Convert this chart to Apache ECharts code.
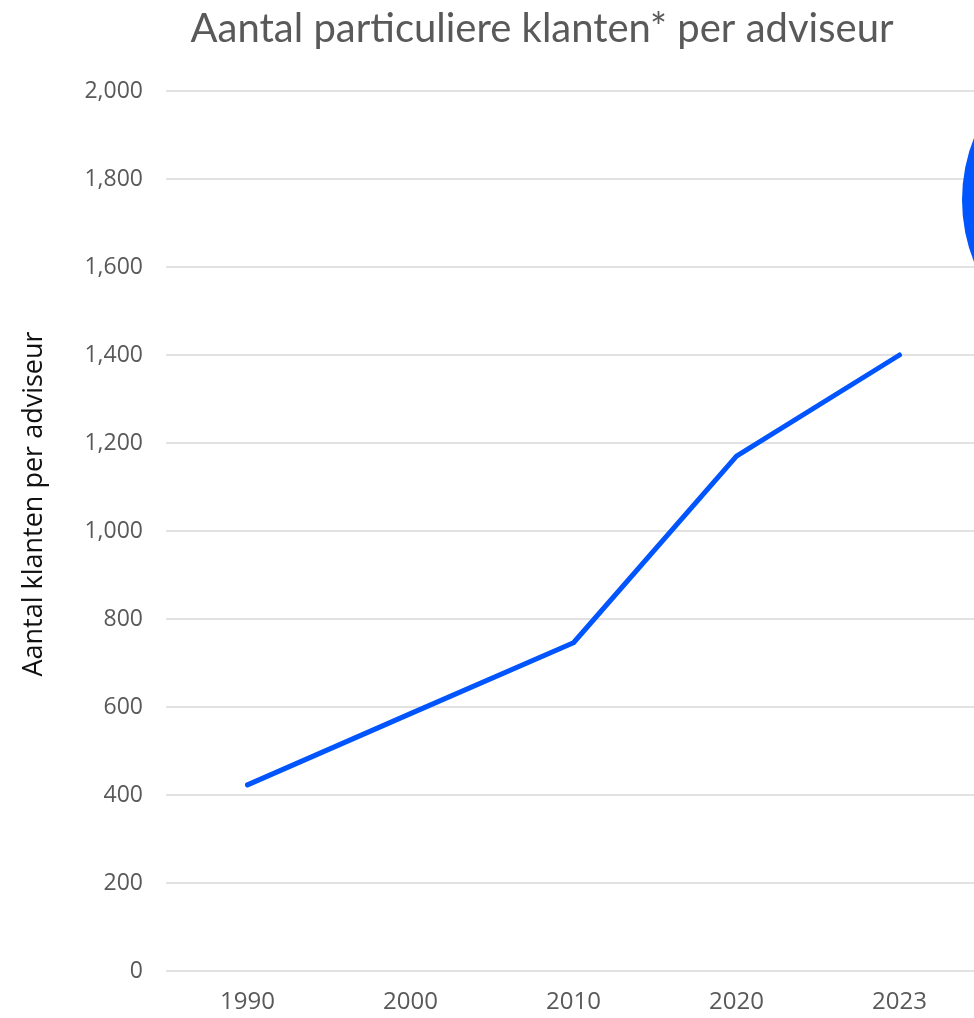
<!DOCTYPE html>
<html>
<head>
<meta charset="utf-8">
<script src="https://cdn.jsdelivr.net/npm/echarts@6/dist/echarts.min.js"></script>
<style>
html,body{margin:0;padding:0;background:#fff;overflow:hidden;}
#chart{width:981px;height:1018px;}
</style>
</head>
<body>
<div id="chart"></div>
<script>
const categories = ['1990', '2000', '2010', '2020', '2023'];
const klanten = [423, 585, 746, 1170, 1400];
const yTicks = { min: 0, max: 2000, interval: 200 };

const chart = echarts.init(document.getElementById('chart'), null, { renderer: 'canvas' });
const font = '"Open Sans", "Noto Sans", sans-serif';
chart.setOption({
  backgroundColor: '#ffffff',
  animation: false,
  title: {
    text: 'Aantal particuliere klanten* per adviseur',
    left: 537,
    textAlign: 'center',
    top: 4,
    textStyle: { fontFamily: 'Lato, "Open Sans", sans-serif', fontSize: 40, fontWeight: 'normal', color: '#595959' }
  },
  grid: { left: 166, right: 0, top: 91, bottom: 47, containLabel: false },
  xAxis: {
    type: 'category',
    data: categories,
    boundaryGap: true,
    axisLine: { show: false },
    axisTick: { show: false },
    axisLabel: { margin: 19, fontFamily: font, fontSize: 24, color: '#595959' }
  },
  yAxis: {
    type: 'value',
    min: yTicks.min, max: yTicks.max, interval: yTicks.interval,
    name: 'Aantal klanten per adviseur',
    nameLocation: 'middle',
    nameGap: 118,
    nameRotate: 90,
    nameTextStyle: { fontFamily: font, fontSize: 27, color: '#111111', padding: [0, 0, 0, 54] },
    axisLine: { show: false },
    axisTick: { show: false },
    splitLine: { lineStyle: { color: '#d9d9d9', width: 1.5 } },
    axisLabel: {
      margin: 23, fontFamily: font, fontSize: 23, color: '#595959',
      formatter: v => v.toLocaleString('en-US')
    }
  },
  series: [{
    type: 'line',
    data: klanten,
    showSymbol: false,
    symbol: 'none',
    lineStyle: { color: '#0055ff', width: 5, cap: 'round', join: 'round' }
  }],
  graphic: [{
    type: 'circle',
    shape: { cx: 1129, cy: 200, r: 167 },
    style: { fill: '#0055ff' },
    z: 10
  }]
});
</script>
</body>
</html>
